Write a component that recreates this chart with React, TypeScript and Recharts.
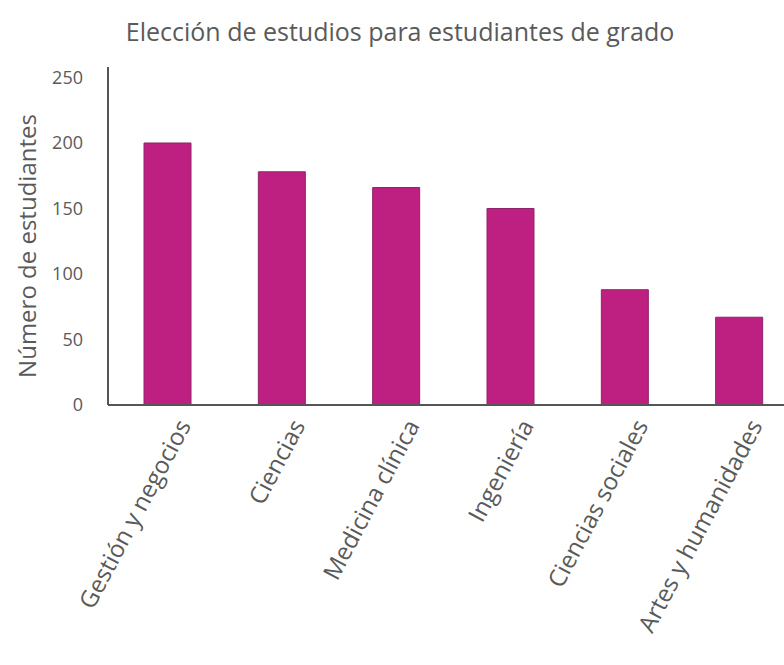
import React from "react";
import { BarChart, Bar, XAxis, YAxis } from "recharts";

const categories = [
  "Gestión y negocios",
  "Ciencias",
  "Medicina clínica",
  "Ingeniería",
  "Ciencias sociales",
  "Artes y humanidades",
];
const students = [200, 178, 166, 150, 88, 67];
const yTicks = [0, 50, 100, 150, 200, 250];

const data = categories.map((name, i) => ({ name, value: students[i] }));

const FONT = "'Open Sans', 'DejaVu Sans', sans-serif";
const TEXT = "#5a5a5a";

function XTick(props: any) {
  const { x, y, payload } = props;
  return (
    <g transform={`translate(${x + 16},${y + 8})`}>
      <text
        transform="rotate(-62)"
        textAnchor="end"
        dominantBaseline="central"
        fill={TEXT}
        fontSize={24}
        fontFamily={FONT}
      >
        {payload.value}
      </text>
    </g>
  );
}

function YLabel(props: any) {
  const { viewBox } = props;
  const cx = 26;
  const cy = viewBox.y + viewBox.height / 2 + 10;
  return (
    <text
      x={cx}
      y={cy}
      transform={`rotate(-90, ${cx}, ${cy})`}
      textAnchor="middle"
      dominantBaseline="central"
      fill={TEXT}
      fontSize={24}
      fontFamily={FONT}
    >
      Número de estudiantes
    </text>
  );
}

export default function App() {
  return (
    <div style={{ position: "absolute", left: 0, top: 0, width: 784, height: 665, overflow: "hidden", background: "#fff" }}>
      <div
        style={{
          position: "absolute",
          top: 14,
          left: 0,
          width: 800,
          textAlign: "center",
          fontFamily: FONT,
          fontSize: 25,
          color: TEXT,
        }}
      >
        Elección de estudios para estudiantes de grado
      </div>
      <BarChart
        width={800}
        height={665}
        data={data}
        margin={{ top: 67, right: 4, bottom: 20, left: 0 }}
        barCategoryGap={0}
      >
        <XAxis
          dataKey="name"
          interval={0}
          height={240}
          padding={{ left: 2, right: 0 }}
          tickLine={false}
          axisLine={{ stroke: "#555", strokeWidth: 2 }}
          tick={<XTick />}
        />
        <YAxis
          width={108}
          domain={[0, 258]}
          ticks={yTicks}
          allowDataOverflow
          tickLine={false}
          axisLine={{ stroke: "#555", strokeWidth: 2 }}
          tick={{ fill: TEXT, fontSize: 18, fontFamily: FONT }}
          tickMargin={19}
          label={<YLabel />}
        />
        <Bar dataKey="value" fill="#be2082" stroke="#8e2468" strokeWidth={1} barSize={47} isAnimationActive={false} />
      </BarChart>
    </div>
  );
}
